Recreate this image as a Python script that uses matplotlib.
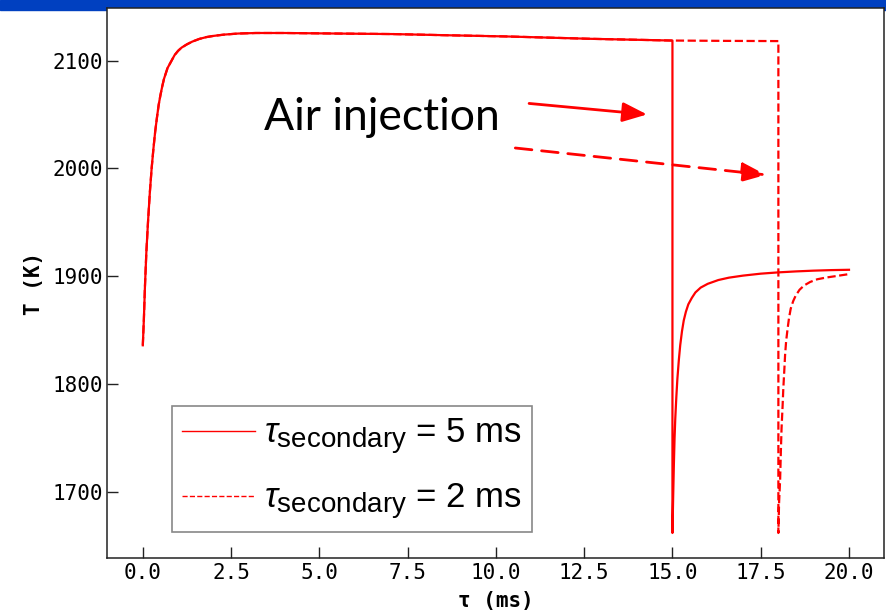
import matplotlib.pyplot as plt
import matplotlib._mathtext as mathtext_core
from matplotlib.lines import Line2D
from matplotlib.patches import Rectangle

# heat-up and plateau (shared by both runs), tau in ms, T in K
t_heat = [0.0, 0.03, 0.06, 0.10, 0.15, 0.20, 0.25, 0.30, 0.35, 0.40, 0.45, 0.50, 0.55,
          0.60, 0.70, 0.80, 0.90, 1.00, 1.10, 1.25, 1.40, 1.60, 1.80, 2.00, 2.30, 2.70,
          3.20, 4.0, 5.5, 7.1, 8.5, 10.3, 11.5, 12.7, 14.0, 15.0]
T_heat = [1836, 1860, 1890, 1922, 1952, 1978, 2000, 2018, 2034, 2047, 2059, 2068, 2076,
          2083, 2093, 2099, 2105, 2109, 2112, 2115, 2117.5, 2120, 2121.7, 2122.8, 2124,
          2125, 2125.5, 2125.5, 2125, 2124.5, 2123.5, 2122.3, 2121.2, 2120.1, 2119.2, 2118.5]

# air injected at 15 ms
t_air_5 = [15.0, 15.02, 15.04, 15.06, 15.08, 15.11, 15.14, 15.18, 15.22, 15.27, 15.32,
           15.38, 15.45, 15.55, 15.65, 15.8, 16.0, 16.3, 16.6, 17.0, 17.5, 18.0, 18.5,
           19.0, 19.5, 20.0]
T_air_5 = [1662, 1695, 1725, 1750, 1768, 1788, 1805, 1822, 1836, 1849, 1859,
           1867, 1874, 1880, 1885, 1889.5, 1893, 1896.5, 1898.7, 1900.6, 1902.4, 1903.6,
           1904.5, 1905.2, 1905.7, 1906]

# air injected at 18 ms
t_air_2 = [16.5, 18.0, 18.0, 18.02, 18.05, 18.07, 18.09, 18.12, 18.14, 18.17, 18.19,
           18.22, 18.26, 18.30, 18.35, 18.42, 18.49, 18.6, 18.73, 18.9, 19.1, 19.35,
           19.6, 19.8, 20.0]
T_air_2 = [2118.2, 2118, 1662, 1690, 1712, 1737, 1759, 1780, 1796, 1814, 1827,
           1840, 1851, 1861, 1870, 1877, 1882, 1887.5, 1891.5, 1894.7, 1897.2, 1898.8,
           1900, 1901, 1902]

labels = [r'$\tau_{\mathrm{secondary}}$ = 5 ms', r'$\tau_{\mathrm{secondary}}$ = 2 ms']
x_ticks = [0, 2.5, 5, 7.5, 10, 12.5, 15, 17.5, 20]
y_ticks = [1700, 1800, 1900, 2000, 2100]

plt.rcParams['font.family'] = 'DejaVu Sans Mono'
plt.rcParams['mathtext.fontset'] = 'custom'
plt.rcParams['mathtext.rm'] = 'Liberation Sans'
plt.rcParams['mathtext.it'] = 'Liberation Sans:italic'
# larger subscripts in the legend labels
mathtext_core.SHRINK_FACTOR = 0.8

fig = plt.figure(figsize=(8.87, 6.15), dpi=100)
# slide header band
fig.patches.append(Rectangle((0, 1 - 10 / 615), 1, 10 / 615, transform=fig.transFigure,
                             color='#0040c0', zorder=-1))
ax = fig.add_axes([107.5 / 887, 57 / 615, 776.8 / 887, 550 / 615])

ax.plot(t_heat + t_air_5, T_heat + T_air_5, color='red', lw=1.6)
ax.plot(t_heat + t_air_2, T_heat + T_air_2, color='red', lw=1.6, ls='--')

ax.set_xlim(-1, 21)
ax.set_xticks(x_ticks)
ax.set_yticks(y_ticks)
ax.tick_params(direction='in', length=8, width=1, labelsize=15, color='#222222')
for s in ax.spines.values():
    s.set_color('#222222')
    s.set_linewidth(1.1)

ax.set_xlabel('τ (ms)', fontsize=15, fontweight='bold', labelpad=6)
ax.set_ylabel('T (K)', fontsize=15, fontweight='bold', labelpad=6)

ax.text(3.43, 2035.7, 'Air injection', family='Lato', fontsize=32, va='baseline')
head = '-|>,head_length=1.0,head_width=0.4'
ax.annotate('', xy=(14.28, 2050.0), xytext=(10.94, 2060.2),
            arrowprops=dict(arrowstyle=head, color='red', lw=2, shrinkA=0, shrinkB=0,
                            mutation_scale=15))
ax.annotate('', xy=(17.65, 1994.0), xytext=(10.55, 2018.9),
            arrowprops=dict(arrowstyle=head, color='red', lw=2, ls=(0, (6, 3.5)),
                            shrinkA=0, shrinkB=0, mutation_scale=15))

handles = [Line2D([], [], color='red', lw=1), Line2D([], [], color='red', lw=1, ls='--')]
leg = ax.legend(handles, labels, loc='lower left', bbox_to_anchor=(0.083, 0.047),
                prop={'family': 'Liberation Sans', 'size': 25}, fancybox=False,
                edgecolor='#888888', framealpha=1, handlelength=2.1, handletextpad=0.25,
                borderpad=0.3, labelspacing=0.72, borderaxespad=0)
leg.get_frame().set_linewidth(1.2)

fig.savefig('out.png', dpi=100)
